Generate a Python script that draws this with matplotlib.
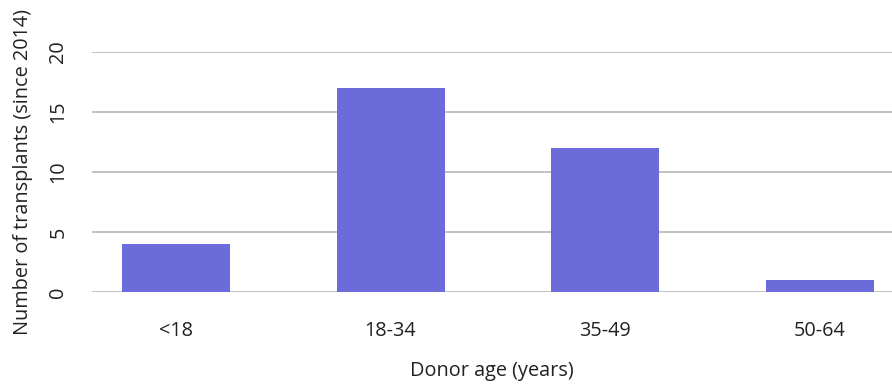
import matplotlib
matplotlib.use("Agg")
import matplotlib.pyplot as plt

categories = ["<18", "18-34", "35-49", "50-64"]
values = [4, 17, 12, 1]
yticks = [0, 5, 10, 15, 20]

plt.rcParams['font.family'] = ['Open Sans', 'DejaVu Sans']

W, H = 892, 385
fig = plt.figure(figsize=(W/100, H/100), dpi=100)
ax = fig.add_axes([92/W, (H-292)/H, 800/W, (292-52)/H])

FS = 14.3
x = list(range(len(categories)))
ax.bar(x, values, width=0.503, color="#6b6bd9", zorder=2)
ax.set_xlim(-0.39, 3.335)
ax.set_ylim(0, 20)
ax.set_yticks(yticks)
ax.set_yticklabels([str(t) for t in yticks], rotation=90, va="center", fontsize=FS, color="#222222")
ax.set_xticks(x)
ax.set_xticklabels(categories, fontsize=FS, color="#222222")
ax.tick_params(axis="both", length=0)
ax.tick_params(axis="y", pad=17)
ax.tick_params(axis="x", pad=21)
ax.grid(axis="y", color="#b8b8b8", linewidth=1.2, zorder=0)
ax.set_axisbelow(True)
for s in ax.spines.values():
    s.set_visible(False)
ax.set_xlabel("Donor age (years)", fontsize=FS, color="#222222", labelpad=14)
ax.set_ylabel("Number of transplants (since 2014)", fontsize=FS, color="#222222", labelpad=11)

fig.savefig("out.png", dpi=100)
